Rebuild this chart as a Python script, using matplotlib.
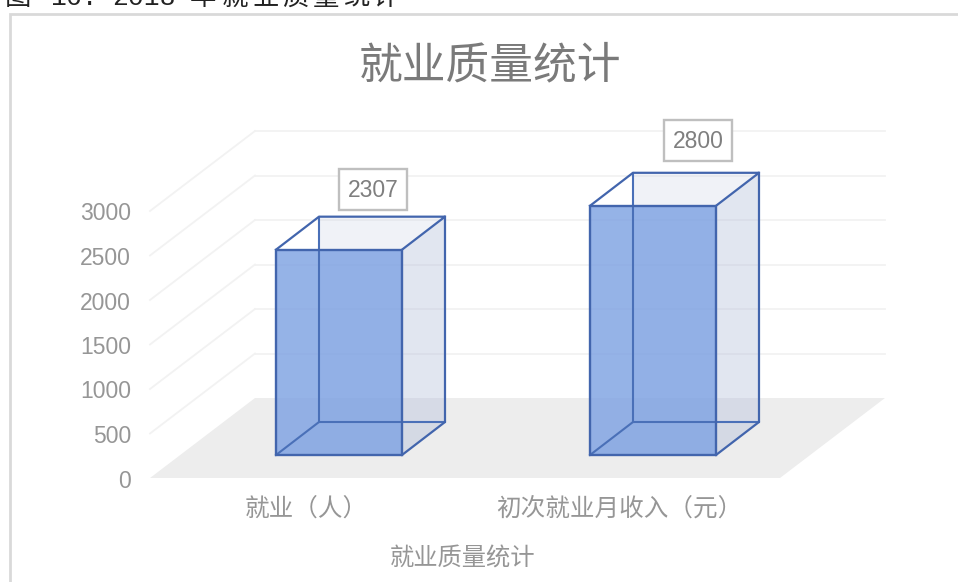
import matplotlib
matplotlib.use('Agg')
import matplotlib.pyplot as plt
from matplotlib.patches import Polygon, Rectangle

plt.rcParams['font.family'] = ['Noto Sans CJK SC', 'DejaVu Sans']

categories = ['就业（人）', '初次就业月收入（元）']
values = [2307, 2800]
tick_values = [0, 500, 1000, 1500, 2000, 2500, 3000]
title = '就业质量统计'
axis_title = '就业质量统计'
# the caption sits above the chart frame and is cut by the top of the picture
caption_parts = ['图', '16.', '2018', '年', '就', '业', '质', '量', '统', '计']
caption_x = [5, 50, 112, 190, 222, 252, 282, 313, 343, 373]

W, H = 958, 582
PX_PER_UNIT = 0.089   # pixels per value unit
BASE_Y = 478          # pixel row of value 0 on the front edge
LATIN = ['Liberation Sans', 'DejaVu Sans']

fig = plt.figure(figsize=(W / 100, H / 100), dpi=100)
ax = fig.add_axes([0, 0, 1, 1])
ax.set_xlim(0, W)
ax.set_ylim((BASE_Y - H) / PX_PER_UNIT, BASE_Y / PX_PER_UNIT)
ax.axis('off')


def u(px):
    return px / PX_PER_UNIT


def row(py):
    # picture row -> value units
    return u(BASE_Y - py)


# chart frame
ax.add_patch(Rectangle((10, row(H + 20)), 1000, u(H + 20 - 14), fc='white', ec='#d9d9d9', lw=2, zorder=0))

# side wall and back wall gridlines
wall_dx, wall_dy = 105, u(80)
for v in tick_values:
    if v > 0:
        ax.plot([150, 150 + wall_dx], [v, v + wall_dy], color='#f2f2f2', lw=1.3, zorder=1)
        ax.plot([150 + wall_dx, 885], [v + wall_dy, v + wall_dy], color='#f2f2f2', lw=1.3, zorder=1)
    ax.text(131, v - u(3), str(v), ha='right', va='center', fontsize=16.5, color='#969696', family=LATIN)

# floor
ax.add_patch(Polygon([(150, 0), (780, 0), (885, wall_dy), (255, wall_dy)], fc='#ededed', ec='none', zorder=2))

# bars
bar_left = [276, 590]
bar_w = 126
bar_dx, bar_dy = 43, u(33)
base = u(23)
edge = '#4265ad'
label_x = [373, 698]
label_gap = [60, 65]
for left, val, lx, gap in zip(bar_left, values, label_x, label_gap):
    right = left + bar_w
    top = base + val
    # back, side, top and bottom faces first
    ax.add_patch(Polygon([(left + bar_dx, base + bar_dy), (right + bar_dx, base + bar_dy),
                          (right + bar_dx, top + bar_dy), (left + bar_dx, top + bar_dy)],
                         fc='#c5cde3', alpha=0.25, ec='none', zorder=3))
    ax.add_patch(Polygon([(right, base), (right + bar_dx, base + bar_dy),
                          (right + bar_dx, top + bar_dy), (right, top)],
                         fc='#a9b6d6', alpha=0.2, ec='none', zorder=3))
    ax.add_patch(Polygon([(left, base), (left + bar_dx, base + bar_dy),
                          (right + bar_dx, base + bar_dy), (right, base)],
                         fc='#a9b6d6', alpha=0.2, ec='none', zorder=3))
    # front face
    ax.add_patch(Rectangle((left, base), bar_w, val, fc='#7ba0e2', alpha=0.8, ec='none', zorder=6))
    # hidden edges show through the front
    ax.plot([left + bar_dx, left + bar_dx], [base + bar_dy, top + bar_dy], color='#4a70b8', lw=1.5, zorder=7)
    ax.plot([left, left + bar_dx, right + bar_dx], [base, base + bar_dy, base + bar_dy],
            color='#4a70b8', lw=1.5, zorder=7)
    # outer edges
    ax.add_patch(Rectangle((left, base), bar_w, val, fc='none', ec=edge, lw=1.7, zorder=8))
    ax.plot([left, left + bar_dx, right + bar_dx, right], [top, top + bar_dy, top + bar_dy, top],
            color=edge, lw=1.6, zorder=8)
    ax.plot([right + bar_dx, right + bar_dx, right], [top + bar_dy, base + bar_dy, base], color=edge, lw=1.6, zorder=8)
    # value label
    ly = top + u(gap)
    ax.add_patch(Rectangle((lx - 34, ly - u(20.5)), 68, u(41), fc='white', ec='#bfbfbf', lw=1.7, zorder=9))
    ax.text(lx, ly - u(1), str(val), ha='center', va='center', fontsize=16.5, color='#7f7f7f',
            family=LATIN, zorder=10)

# category labels
ax.text(306, row(509), categories[0], ha='center', va='center', fontsize=17.7, color='#969696')
ax.text(619, row(509), categories[1], ha='center', va='center', fontsize=17.7, color='#969696')
ax.text(463, row(559), axis_title, ha='center', va='center', fontsize=17.5, color='#969696')

# title
ax.text(490, row(65), title, ha='center', va='center', fontsize=31.5, color='#7a7a7a')

# caption
for part, cx in zip(caption_parts, caption_x):
    is_latin = part[0].isdigit()
    ax.text(cx, row(5), part, ha='left', va='baseline', fontsize=19, color='#222222',
            family=['Liberation Mono', 'DejaVu Sans'] if is_latin else ['Noto Sans CJK SC', 'DejaVu Sans'])

fig.savefig('out.png', dpi=100)
